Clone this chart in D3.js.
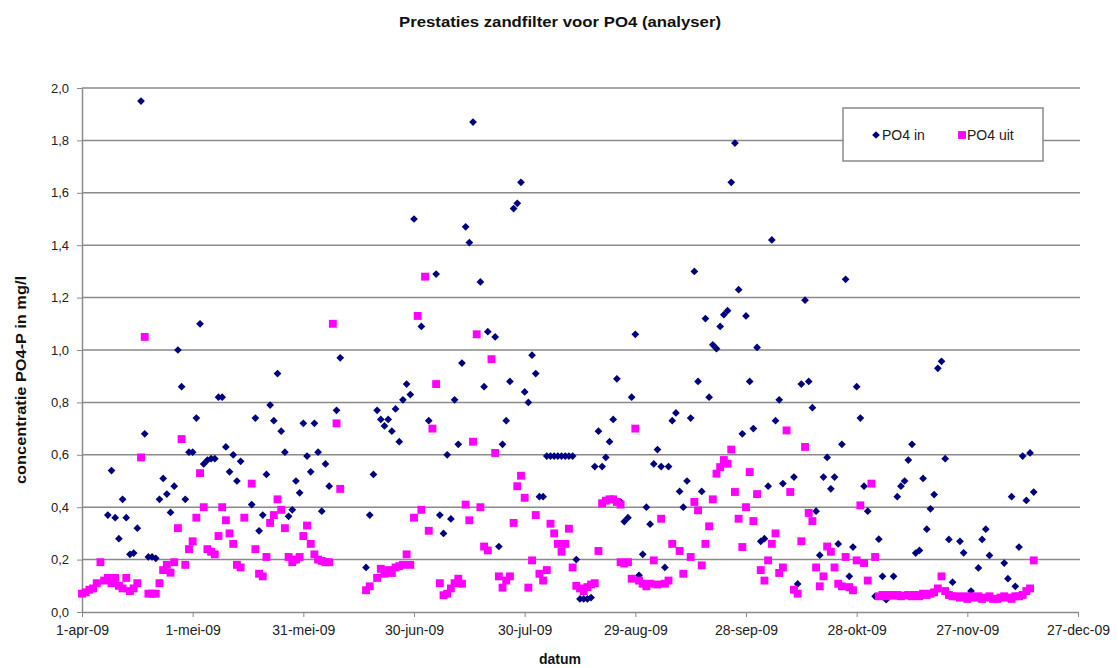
<!DOCTYPE html>
<html>
<head>
<meta charset="utf-8">
<script src="https://cdn.jsdelivr.net/npm/d3@7"></script>
<style>
  body { margin: 0; background: #fff; }
  svg { font-family: "Liberation Sans", Arial, sans-serif; }
</style>
</head>
<body>
<svg></svg>
<script>
  const width = 1118;
  const height = 668;

  // x tick labels, one every 30 days from 1-apr-09
  const tickLabels = ["1-apr-09","1-mei-09","31-mei-09","30-jun-09","30-jul-09","29-aug-09","28-sep-09","28-okt-09","27-nov-09","27-dec-09"];
  const yTicks = [0, 0.2, 0.4, 0.6, 0.8, 1.0, 1.2, 1.4, 1.6, 1.8, 2.0];

  // [days after 1-apr-09, mg/l]
  const poIn = [[7,0.37],[8,0.54],[9,0.36],[10,0.28],[11,0.43],[12,0.36],[13,0.22],[14,0.225],[15,0.32],[16,1.95],[17,0.68],[18,0.21],[19,0.21],[20,0.205],[21,0.43],[22,0.51],[23,0.45],[24,0.38],[25,0.48],[26,1.0],[27,0.86],[28,0.43],[29,0.61],[30,0.61],[31,0.74],[32,1.10],[33,0.565],[34,0.58],[35,0.585],[36,0.585],[37,0.82],[38,0.82],[39,0.63],[40,0.535],[41,0.60],[42,0.50],[43,0.575],[46,0.41],[47,0.74],[48,0.31],[49,0.37],[50,0.525],[51,0.79],[52,0.73],[53,0.91],[54,0.69],[55,0.61],[56,0.365],[57,0.39],[58,0.50],[59,0.455],[60,0.72],[61,0.595],[62,0.535],[63,0.72],[64,0.61],[65,0.385],[66,0.565],[67,0.48],[69,0.77],[70,0.97],[77,0.17],[78,0.37],[79,0.525],[80,0.77],[81,0.735],[82,0.71],[83,0.735],[84,0.69],[85,0.775],[86,0.65],[87,0.81],[88,0.87],[89,0.83],[90,1.50],[92,1.09],[94,0.73],[96,1.29],[97,0.37],[98,0.30],[99,0.60],[100,0.355],[101,0.81],[102,0.64],[103,0.95],[104,1.47],[105,1.41],[106,1.87],[108,1.26],[109,0.86],[110,1.07],[112,1.05],[113,0.25],[114,0.64],[115,0.73],[116,0.88],[117,1.54],[118,1.56],[119,1.64],[120,0.84],[121,0.80],[122,0.98],[123,0.91],[124,0.44],[125,0.44],[126,0.595],[127,0.595],[128,0.595],[129,0.595],[130,0.595],[131,0.595],[132,0.595],[133,0.595],[134,0.20],[135,0.05],[136,0.05],[137,0.05],[138,0.055],[139,0.555],[140,0.69],[141,0.555],[142,0.59],[143,0.65],[144,0.735],[145,0.89],[146,0.42],[147,0.345],[148,0.36],[149,0.82],[150,1.06],[151,0.14],[152,0.22],[153,0.40],[154,0.335],[155,0.565],[156,0.62],[157,0.555],[158,0.17],[159,0.555],[160,0.73],[161,0.76],[162,0.46],[163,0.40],[164,0.50],[165,0.74],[166,1.30],[167,0.88],[168,0.46],[169,1.12],[170,0.82],[171,1.02],[172,1.005],[173,1.09],[174,1.135],[175,1.15],[176,1.64],[177,1.79],[178,1.23],[179,0.68],[180,1.13],[181,0.88],[182,0.70],[183,1.01],[184,0.27],[185,0.28],[186,0.48],[187,1.42],[188,0.73],[189,0.81],[190,0.49],[193,0.515],[194,0.107],[195,0.87],[196,1.19],[197,0.88],[198,0.78],[199,0.385],[200,0.217],[201,0.515],[202,0.59],[203,0.47],[204,0.515],[205,0.26],[206,0.64],[207,1.27],[208,0.136],[209,0.248],[210,0.86],[211,0.74],[212,0.48],[213,0.385],[215,0.06],[216,0.278],[217,0.136],[218,0.047],[220,0.136],[221,0.44],[222,0.48],[223,0.50],[224,0.58],[225,0.64],[226,0.225],[227,0.235],[228,0.51],[229,0.316],[230,0.394],[231,0.448],[232,0.93],[233,0.957],[234,0.585],[235,0.277],[236,0.114],[238,0.27],[239,0.226],[241,0.08],[243,0.168],[244,0.277],[245,0.316],[246,0.216],[249,0.05],[250,0.187],[251,0.127],[252,0.44],[253,0.098],[254,0.248],[255,0.595],[256,0.426],[257,0.607],[258,0.458]];

  const poUit = [[0,0.07],[1,0.075],[2,0.085],[3,0.09],[4,0.11],[5,0.19],[6,0.12],[7,0.13],[8,0.11],[9,0.13],[10,0.10],[11,0.09],[12,0.13],[13,0.08],[14,0.09],[15,0.11],[16,0.59],[17,1.05],[18,0.07],[19,0.07],[20,0.07],[21,0.11],[22,0.16],[23,0.18],[24,0.15],[25,0.19],[26,0.32],[27,0.66],[28,0.18],[29,0.24],[30,0.27],[31,0.36],[32,0.53],[33,0.40],[34,0.24],[35,0.23],[36,0.22],[37,0.29],[38,0.40],[39,0.35],[40,0.30],[41,0.26],[42,0.18],[43,0.17],[44,0.36],[46,0.49],[47,0.24],[48,0.146],[49,0.136],[50,0.21],[51,0.34],[52,0.37],[53,0.43],[54,0.39],[55,0.32],[56,0.21],[57,0.19],[58,0.20],[59,0.21],[60,0.29],[61,0.33],[62,0.26],[63,0.22],[64,0.20],[65,0.195],[66,0.19],[67,0.19],[68,1.10],[69,0.72],[70,0.47],[77,0.083],[78,0.098],[80,0.13],[81,0.165],[82,0.146],[83,0.16],[84,0.149],[85,0.17],[86,0.175],[87,0.18],[88,0.22],[89,0.18],[90,0.36],[91,1.13],[92,0.39],[93,1.28],[94,0.31],[95,0.70],[96,0.87],[97,0.11],[98,0.064],[99,0.07],[100,0.09],[101,0.11],[102,0.127],[103,0.108],[104,0.41],[105,0.35],[106,0.65],[107,1.06],[108,0.40],[109,0.25],[110,0.235],[111,0.965],[112,0.607],[113,0.136],[114,0.093],[115,0.12],[116,0.136],[117,0.34],[118,0.48],[119,0.52],[120,0.436],[121,0.093],[122,0.197],[123,0.37],[124,0.146],[125,0.12],[126,0.16],[127,0.337],[128,0.30],[129,0.26],[130,0.23],[131,0.26],[132,0.318],[133,0.17],[134,0.10],[135,0.09],[136,0.08],[137,0.095],[138,0.105],[139,0.11],[140,0.233],[141,0.415],[142,0.425],[143,0.43],[144,0.43],[145,0.42],[146,0.41],[146,0.19],[147,0.185],[148,0.19],[149,0.127],[150,0.70],[151,0.12],[152,0.108],[153,0.098],[154,0.108],[155,0.197],[156,0.105],[157,0.356],[158,0.108],[159,0.12],[160,0.26],[162,0.233],[163,0.146],[165,0.21],[166,0.42],[167,0.388],[168,0.178],[169,0.26],[170,0.327],[171,0.43],[172,0.528],[173,0.553],[174,0.58],[175,0.566],[176,0.62],[177,0.458],[178,0.356],[179,0.248],[180,0.40],[181,0.534],[182,0.347],[183,0.45],[184,0.16],[185,0.12],[186,0.197],[187,0.26],[188,0.30],[189,0.149],[190,0.17],[191,0.693],[192,0.458],[193,0.085],[194,0.07],[195,0.27],[196,0.63],[197,0.378],[198,0.347],[199,0.17],[200,0.098],[201,0.136],[202,0.25],[203,0.23],[204,0.17],[205,0.108],[206,0.098],[207,0.21],[208,0.095],[209,0.083],[210,0.197],[211,0.407],[212,0.187],[213,0.12],[214,0.49],[215,0.21],[216,0.06],[217,0.065],[218,0.06],[219,0.065],[220,0.062],[221,0.065],[222,0.06],[223,0.063],[224,0.065],[225,0.06],[226,0.065],[227,0.06],[228,0.07],[229,0.065],[230,0.07],[231,0.075],[232,0.09],[233,0.136],[234,0.08],[235,0.065],[236,0.06],[237,0.06],[238,0.055],[239,0.06],[240,0.05],[241,0.06],[242,0.055],[243,0.06],[244,0.05],[245,0.055],[246,0.06],[247,0.05],[248,0.05],[249,0.055],[250,0.06],[251,0.055],[252,0.05],[253,0.06],[254,0.06],[255,0.065],[256,0.08],[257,0.09],[258,0.197]];

  const day = d => new Date(Date.UTC(2009, 3, 1 + d));

  const svg = d3.select('svg').attr('width', width).attr('height', height);

  const x = d3.scaleUtc().domain([day(0), day(270)]).range([82, 1078]);
  const y = d3.scaleLinear().domain([0, 2]).range([612, 88]);

  // gridlines
  svg.append('g').selectAll('line').data(yTicks.filter(d => d > 0))
    .enter().append('line')
      .attr('x1', 82).attr('x2', 1080)
      .attr('y1', d => y(d)).attr('y2', d => y(d))
      .attr('stroke', '#8a8a8a').attr('stroke-width', 1.5);

  const xAxis = d3.axisBottom(x)
    .tickValues(tickLabels.map((t, i) => day(i * 30)))
    .tickFormat((d, i) => tickLabels[i])
    .tickSize(5).tickSizeOuter(0).tickPadding(8);
  const gx = svg.append('g').attr('transform', 'translate(0,612)').call(xAxis);
  gx.select('.domain').attr('stroke', '#8a8a8a').attr('stroke-width', 1.5);
  gx.selectAll('.tick line').attr('stroke', '#8a8a8a');
  gx.selectAll('text').attr('font-size', 14).attr('fill', '#222');

  const yAxis = d3.axisLeft(y)
    .tickValues(yTicks)
    .tickFormat(d => d.toFixed(1).replace('.', ','))
    .tickSize(5).tickSizeOuter(0).tickPadding(8);
  const gy = svg.append('g').attr('transform', 'translate(82,0)').call(yAxis);
  gy.select('.domain').attr('stroke', '#8a8a8a').attr('stroke-width', 1.5);
  gy.selectAll('.tick line').attr('stroke', '#8a8a8a');
  gy.selectAll('text').attr('font-size', 13).attr('fill', '#222');

  const diamond = d3.symbol().type(d3.symbolSquare).size(30);
  const square = d3.symbol().type(d3.symbolSquare).size(62);

  svg.append('g').selectAll('path').data(poIn)
    .enter().append('path')
      .attr('d', diamond)
      .attr('transform', d => 'translate(' + x(day(d[0])) + ',' + y(d[1]) + ') rotate(45)')
      .attr('fill', '#000080');

  svg.append('g').selectAll('path').data(poUit)
    .enter().append('path')
      .attr('d', square)
      .attr('transform', d => 'translate(' + x(day(d[0])) + ',' + y(d[1]) + ')')
      .attr('fill', '#ff00ff');

  // titles
  svg.append('text').attr('x', 560).attr('y', 27).attr('text-anchor', 'middle')
    .attr('font-size', 15).attr('font-weight', 'bold').attr('fill', '#111')
    .attr('textLength', 322).attr('lengthAdjust', 'spacingAndGlyphs')
    .text('Prestaties zandfilter voor PO4 (analyser)');
  svg.append('text').attr('x', 560).attr('y', 664).attr('text-anchor', 'middle')
    .attr('font-size', 14).attr('font-weight', 'bold').attr('fill', '#111')
    .text('datum');
  svg.append('text').attr('transform', 'translate(26,380) rotate(-90)').attr('text-anchor', 'middle')
    .attr('font-size', 14).attr('font-weight', 'bold').attr('fill', '#111')
    .attr('textLength', 208).attr('lengthAdjust', 'spacingAndGlyphs')
    .text('concentratie PO4-P in mg/l');

  // legend
  const lg = svg.append('g');
  lg.append('rect').attr('x', 843).attr('y', 108).attr('width', 200).attr('height', 53)
    .attr('fill', '#fff').attr('stroke', '#8a8a8a').attr('stroke-width', 1.5);
  lg.append('path').attr('d', diamond).attr('transform', 'translate(876,135) rotate(45)').attr('fill', '#000080');
  lg.append('text').attr('x', 882).attr('y', 140).attr('font-size', 14).attr('fill', '#222').text('PO4 in');
  lg.append('path').attr('d', square).attr('transform', 'translate(962,135)').attr('fill', '#ff00ff');
  lg.append('text').attr('x', 967).attr('y', 140).attr('font-size', 14).attr('fill', '#222').text('PO4 uit');
</script>
</body>
</html>
